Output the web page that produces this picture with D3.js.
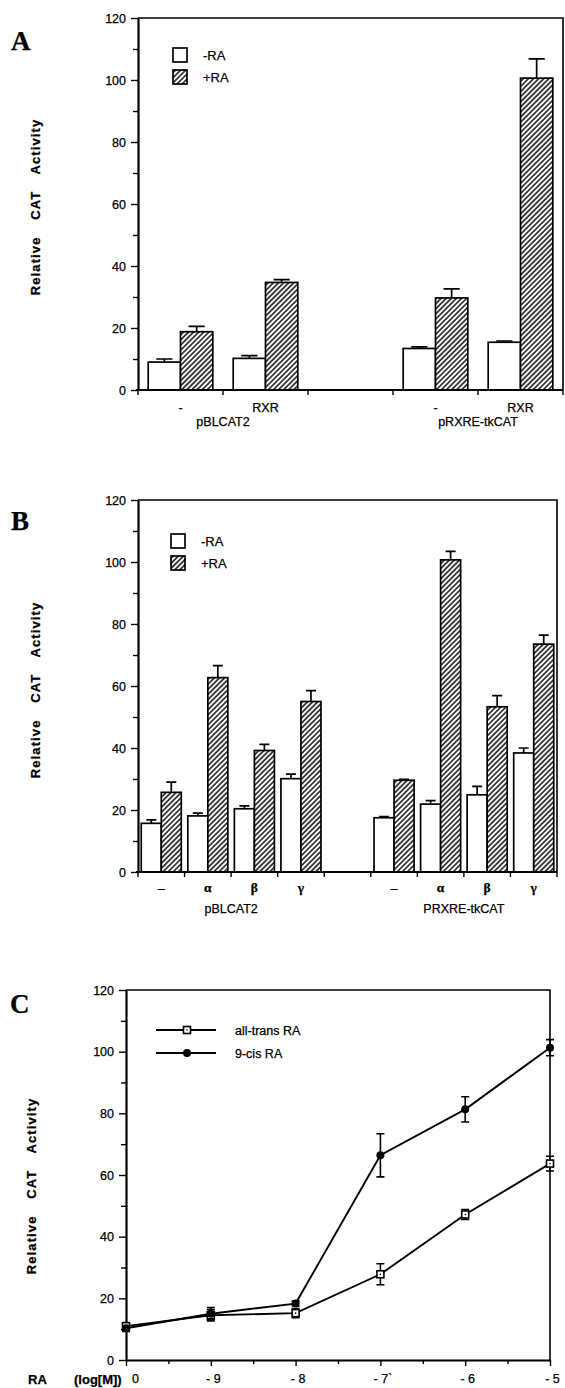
<!DOCTYPE html>
<html>
<head>
<meta charset="utf-8">
<script src="https://cdn.jsdelivr.net/npm/d3@7"></script>
<style>
  body { margin: 0; background: #fff; }
  svg text { font-family: "Liberation Sans", Arial, sans-serif; fill: #000; stroke: #000; stroke-width: 0.25px; }
</style>
</head>
<body>
<svg id="fig" width="565" height="1388"></svg>
<script>
// ---- data ----
// panel A
const aSlots = ['a1', 'a2', 'gap', 'a3', 'a4'];
const aLabels = ['-', 'RXR', '', '-', 'RXR'];
const aVectors = ['pBLCAT2', 'pRXRE-tkCAT'];
const aMinusRA = [9.0, 10.2, null, 13.4, 15.4];
const aMinusErr = [1.0, 0.9, null, 0.5, 0.4];
const aPlusRA = [18.8, 34.7, null, 29.7, 100.6];
const aPlusErr = [1.7, 0.9, null, 2.9, 6.2];

// panel B
const bSlots = ['b1', 'b2', 'b3', 'b4', 'gap', 'b5', 'b6', 'b7', 'b8'];
const bLabels = ['\u2013', '\u03b1', '\u03b2', '\u03b3', '', '\u2013', '\u03b1', '\u03b2', '\u03b3'];
const bVectors = ['pBLCAT2', 'PRXRE-tkCAT'];
const bMinusRA = [15.7, 18.1, 20.4, 30.1, null, 17.5, 21.9, 24.9, 38.4];
const bMinusErr = [1.1, 0.9, 0.9, 1.5, null, 0.4, 1.1, 2.7, 1.6];
const bPlusRA = [25.7, 62.7, 39.2, 55.0, null, 29.6, 100.7, 53.3, 73.5];
const bPlusErr = [3.3, 3.9, 2.0, 3.5, null, 0.3, 2.7, 3.6, 2.9];

// panel C
const cDoses = ['0', '- 9', '- 8', '- 7`', '- 6', '- 5'];
const allTrans = [11.0, 14.5, 15.2, 27.8, 47.2, 63.7];
const allTransErr = [1.0, 1.8, 1.5, 3.4, 1.6, 2.4];
const nineCis = [10.3, 15.0, 18.3, 66.4, 81.3, 101.3];
const nineCisErr = [1.0, 2.0, 0.8, 7.0, 4.1, 2.6];

const legendBars = ['-RA', '+RA'];
const legendLines = ['all-trans RA', '9-cis RA'];
const yTicks = d3.range(0, 121, 20);
const yMinor = d3.range(10, 120, 20);

const svg = d3.select('#fig');

// hatch for +RA bars
const pat = svg.append('defs').append('pattern')
    .attr('id', 'hatch')
    .attr('patternUnits', 'userSpaceOnUse')
    .attr('width', 3.6).attr('height', 3.6)
    .attr('patternTransform', 'rotate(45)');
pat.append('rect').attr('width', 3.6).attr('height', 3.6).attr('fill', '#fff');
pat.append('line')
    .attr('x1', 0.9).attr('y1', 0).attr('x2', 0.9).attr('y2', 3.6)
    .attr('stroke', '#000').attr('stroke-width', 1.4);

function panelLetter(txt, x, y) {
    svg.append('text')
        .attr('x', x).attr('y', y)
        .style('font-family', '"Liberation Serif", "Times New Roman", serif')
        .style('font-weight', 'bold')
        .style('font-size', '27px')
        .text(txt);
}

function yTitle(cx, cy) {
    svg.append('text')
        .attr('transform', `translate(${cx},${cy}) rotate(-90)`)
        .attr('text-anchor', 'middle')
        .attr('dy', '0.35em')
        .style('font-weight', 'bold')
        .style('font-size', '13px')
        .style('letter-spacing', '1.1px')
        .style('word-spacing', '12px')
        .text('Relative CAT Activity');
}

// left axis with long labelled ticks every 20 and short ones between
function leftAxis(g, y, x0) {
    g.append('g')
        .attr('transform', `translate(${x0},0)`)
        .call(d3.axisLeft(y).tickValues(yMinor).tickSize(5).tickSizeOuter(0).tickFormat(''))
        .call(a => a.select('.domain').remove());
    const ax = g.append('g')
        .attr('transform', `translate(${x0},0)`)
        .call(d3.axisLeft(y).tickValues(yTicks).tickSize(7).tickSizeOuter(0).tickPadding(5));
    ax.select('.domain').attr('stroke-width', 2.2);
    ax.selectAll('text').style('font-size', '12.5px').style('font-family', '"Liberation Sans", Arial, sans-serif');
    g.selectAll('.tick line').attr('stroke-width', 1.4);
}

function frame(g, left, right, top, bottom) {
    g.append('path')
        .attr('d', `M${left},${top}H${right}V${bottom}`)
        .attr('fill', 'none')
        .attr('stroke', '#000')
        .attr('stroke-width', 1.6);
}

function barPanel(o) {
    const g = svg.append('g');
    const y = d3.scaleLinear().domain([0, 120]).range([o.bottom, o.top]);
    const x = d3.scaleBand().domain(o.slots).range([o.left, o.right])
        .paddingInner(o.pad).paddingOuter(o.pad / 2);
    const inner = d3.scaleBand().domain(['minus', 'plus']).range([0, x.bandwidth()]);
    const bw = inner.bandwidth();

    frame(g, o.left, o.right, o.top, o.bottom);

    const rows = [];
    o.slots.forEach((s, i) => {
        if (o.minus[i] == null) return;
        rows.push({ slot: s, key: 'minus', v: o.minus[i], e: o.minusErr[i] });
        rows.push({ slot: s, key: 'plus', v: o.plus[i], e: o.plusErr[i] });
    });

    const bars = g.selectAll('g.bar').data(rows).join('g').attr('class', 'bar');
    bars.append('rect')
        .attr('x', d => x(d.slot) + inner(d.key))
        .attr('y', d => y(d.v))
        .attr('width', bw)
        .attr('height', d => y(0) - y(d.v))
        .attr('fill', d => d.key === 'plus' ? 'url(#hatch)' : '#fff')
        .attr('stroke', '#000')
        .attr('stroke-width', 1.7);
    bars.append('path')
        .attr('d', d => {
            const cx = x(d.slot) + inner(d.key) + bw / 2;
            return `M${cx},${y(d.v)}V${y(d.v + d.e)}M${cx - bw / 4},${y(d.v + d.e)}H${cx + bw / 4}`;
        })
        .attr('fill', 'none')
        .attr('stroke', '#000')
        .attr('stroke-width', 1.7);

    // bottom axis: ticks on the band boundaries
    const step = x.step();
    const bx = g.append('g');
    bx.append('line')
        .attr('x1', o.left - 2).attr('x2', o.right)
        .attr('y1', o.bottom).attr('y2', o.bottom)
        .attr('stroke', '#000').attr('stroke-width', 2.2);
    bx.selectAll('line.tk').data(d3.range(0, o.slots.length + 1)).join('line')
        .attr('class', 'tk')
        .attr('x1', i => o.left + i * step).attr('x2', i => o.left + i * step)
        .attr('y1', o.bottom).attr('y2', o.bottom + 5)
        .attr('stroke', '#000').attr('stroke-width', 1.4);
    bx.selectAll('text.cat').data(o.slots).join('text')
        .attr('class', 'cat')
        .attr('x', s => x(s) + x.bandwidth() / 2)
        .attr('y', o.bottom + o.catDy)
        .attr('text-anchor', 'middle')
        .style('font-size', o.catSize)
        .style('font-family', o.catFont)
        .style('font-weight', o.catWeight)
        .text((s, i) => o.labels[i]);
    bx.selectAll('text.vec').data(o.vectors).join('text')
        .attr('class', 'vec')
        .attr('x', (v, i) => o.left + o.vecAt[i] * step)
        .attr('y', o.bottom + o.vecDy)
        .attr('text-anchor', 'middle')
        .style('font-size', '12.5px')
        .text(v => v);

    leftAxis(g, y, o.left);

    // legend
    const lg = g.append('g');
    legendBars.forEach((t, i) => {
        lg.append('rect')
            .attr('x', o.legX).attr('y', o.legY + i * 22)
            .attr('width', 14).attr('height', 14)
            .attr('fill', i ? 'url(#hatch)' : '#fff')
            .attr('stroke', '#000').attr('stroke-width', 1.7);
        lg.append('text')
            .attr('x', o.legX + 30).attr('y', o.legY + i * 22 + 12)
            .style('font-size', '13px')
            .text(t);
    });
}

// ---- panel A ----
panelLetter('A', 11, 50);
yTitle(35, 207);
barPanel({
    slots: aSlots, labels: aLabels, vectors: aVectors, vecAt: [1, 4],
    minus: aMinusRA, minusErr: aMinusErr, plus: aPlusRA, plusErr: aPlusErr,
    left: 138, right: 563, top: 18, bottom: 390, pad: 0.24,
    catDy: 22, catSize: '12.5px', catFont: '"Liberation Sans", Arial, sans-serif', catWeight: 'normal', vecDy: 36,
    legX: 173, legY: 48
});

// ---- panel B ----
panelLetter('B', 11, 530);
yTitle(35, 690);
barPanel({
    slots: bSlots, labels: bLabels, vectors: bVectors, vecAt: [2, 7],
    minus: bMinusRA, minusErr: bMinusErr, plus: bPlusRA, plusErr: bPlusErr,
    left: 138, right: 557, top: 500, bottom: 872, pad: 0.14,
    catDy: 20, catSize: '13.5px', catFont: '"Liberation Serif", "Times New Roman", serif', catWeight: 'bold', vecDy: 41,
    legX: 171, legY: 534
});

// ---- panel C ----
panelLetter('C', 10, 1013);
yTitle(31, 1186);
(function () {
    const left = 126, right = 550, top = 990, bottom = 1360;
    const g = svg.append('g');
    const x = d3.scaleLinear().domain([0, cDoses.length - 1]).range([left, right]);
    const y = d3.scaleLinear().domain([0, 120]).range([bottom, top]);

    frame(g, left, right, top, bottom);

    const ax = g.append('g').attr('transform', `translate(0,${bottom})`);
    ax.call(d3.axisBottom(x).tickValues(d3.range(0.5, cDoses.length - 1, 1)).tickSize(4).tickSizeOuter(0).tickFormat(''))
        .call(a => a.select('.domain').remove());
    const ax2 = g.append('g').attr('transform', `translate(0,${bottom})`)
        .call(d3.axisBottom(x).tickValues(d3.range(cDoses.length)).tickSize(6).tickSizeOuter(0)
            .tickPadding(8).tickFormat(i => cDoses[i]));
    ax2.select('.domain').attr('stroke-width', 2.2);
    ax2.selectAll('text').style('font-size', '12.5px')
        .style('font-family', '"Liberation Sans", Arial, sans-serif')
        .attr('dx', i => i === 0 ? 9 : 2);
    g.selectAll('.tick line').attr('stroke-width', 1.4);

    leftAxis(g, y, left);

    g.append('text').attr('x', 28).attr('y', 1384)
        .style('font-weight', 'bold').style('font-size', '13px').text('RA');
    g.append('text').attr('x', 74).attr('y', 1384)
        .style('font-weight', 'bold').style('font-size', '13px').text('(log[M])');

    const line = d3.line().x((d, i) => x(i)).y(d => y(d));
    const series = [
        { vals: allTrans, errs: allTransErr, kind: 'square' },
        { vals: nineCis, errs: nineCisErr, kind: 'dot' }
    ];
    series.forEach(s => {
        g.append('path').datum(s.vals)
            .attr('d', line)
            .attr('fill', 'none').attr('stroke', '#000').attr('stroke-width', 1.9);
        g.selectAll(null).data(s.vals).join('path')
            .attr('d', (d, i) => {
                const cx = x(i), lo = y(d - s.errs[i]), hi = y(d + s.errs[i]);
                return `M${cx},${lo}V${hi}M${cx - 4},${hi}H${cx + 4}M${cx - 4},${lo}H${cx + 4}`;
            })
            .attr('fill', 'none').attr('stroke', '#000').attr('stroke-width', 1.6);
    });

    function marker(sel, kind, cx, cy) {
        if (kind === 'square') {
            sel.append('rect').attr('x', cx - 3.5).attr('y', cy - 3.5)
                .attr('width', 7).attr('height', 7)
                .attr('fill', '#fff').attr('stroke', '#000').attr('stroke-width', 1.6);
            sel.append('circle').attr('cx', cx).attr('cy', cy).attr('r', 0.8).attr('fill', '#000');
        } else {
            sel.append('circle').attr('cx', cx).attr('cy', cy).attr('r', 4).attr('fill', '#000');
        }
    }
    series.forEach(s => {
        s.vals.forEach((v, i) => marker(g, s.kind, x(i), y(v)));
    });

    // legend
    legendLines.forEach((t, i) => {
        const ly = 1030 + i * 23;
        g.append('line').attr('x1', 156).attr('x2', 216).attr('y1', ly).attr('y2', ly)
            .attr('stroke', '#000').attr('stroke-width', 1.9);
        marker(g, series[i].kind, 187, ly);
        g.append('text').attr('x', 235).attr('y', ly + 4.5)
            .style('font-size', '12.5px').text(t);
    });
})();
</script>
</body>
</html>
